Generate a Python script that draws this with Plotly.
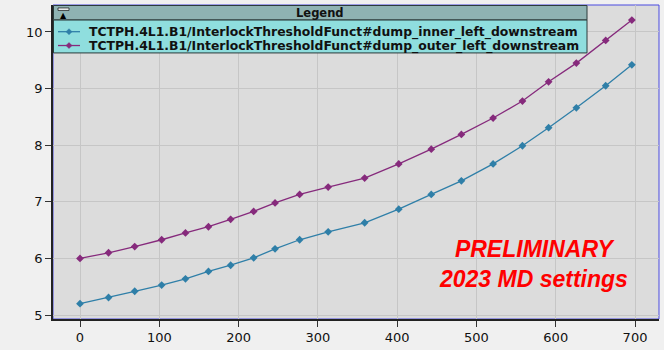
import plotly.graph_objects as go

# ---- data ----
x_vals = [0, 36, 69, 103, 133, 162, 190, 219, 246, 277, 313, 359, 402, 443,
          481, 521, 558, 591, 626, 663, 696]
inner = [5.20, 5.31, 5.42, 5.53, 5.64, 5.77, 5.88, 6.01, 6.17, 6.33, 6.47,
         6.63, 6.87, 7.13, 7.37, 7.67, 7.99, 8.31, 8.66, 9.05, 9.42]
outer = [6.00, 6.10, 6.21, 6.33, 6.45, 6.56, 6.69, 6.83, 6.98, 7.13, 7.26,
         7.42, 7.67, 7.93, 8.19, 8.48, 8.78, 9.12, 9.45, 9.85, 10.21]
names = ["TCTPH.4L1.B1/InterlockThresholdFunct#dump_inner_left_downstream",
         "TCTPH.4L1.B1/InterlockThresholdFunct#dump_outer_left_downstream"]
series = [inner, outer]
colors = ["#2f7fa8", "#862a7c"]
x_ticks = [0, 100, 200, 300, 400, 500, 600, 700]
y_ticks = [5, 6, 7, 8, 9, 10]
note_lines = ["PRELIMINARY", "2023 MD settings"]

W, H = 664, 350
L, R, T, B = 53, 659, 5, 322.7


def px(x):
    return (x - L) / (R - L)


def py(y):
    return (B - y) / (B - T)


fig = go.Figure()
for vals, name, col in zip(series, names, colors):
    fig.add_trace(go.Scatter(
        x=x_vals, y=vals, mode="lines+markers", name=name,
        line=dict(color=col, width=1.3),
        marker=dict(symbol="diamond", size=6, color=col),
        showlegend=False))

shapes = []
annotations = []

# plot frame (blue selection border)
shapes.append(dict(type="rect", xref="paper", yref="paper", x0=0, x1=1, y0=0, y1=1,
                   line=dict(color="#4a4ae0", width=1), layer="below"))

# custom legend
lx0, lx1, ly0, lhead, ly1 = 53.5, 587, 5.5, 20, 53.5
shapes.append(dict(type="rect", xref="paper", yref="paper",
                   x0=px(lx0), x1=px(lx1), y0=py(ly1), y1=py(lhead),
                   fillcolor="#8fdede", line=dict(color="#2a3a3a", width=1), layer="above"))
shapes.append(dict(type="rect", xref="paper", yref="paper",
                   x0=px(lx0), x1=px(lx1), y0=py(lhead), y1=py(ly0),
                   fillcolor="#8fb3b3", line=dict(color="#2a3a3a", width=1), layer="above"))
# header icon
shapes.append(dict(type="rect", xref="paper", yref="paper",
                   x0=px(58), x1=px(69), y0=py(10.5), y1=py(8),
                   fillcolor="#f4f8f8", line=dict(color="#222", width=0.8), layer="above"))
annotations.append(dict(text="▲", xref="paper", yref="paper", x=px(63.5), y=py(15.5),
                        showarrow=False, font=dict(size=8, color="#000"),
                        xanchor="center", yanchor="middle"))
annotations.append(dict(text="<b>Legend</b>", xref="paper", yref="paper",
                        x=px((lx0 + lx1) / 2), y=py(13), showarrow=False,
                        font=dict(family="DejaVu Sans", size=11.5, color="#111"),
                        xanchor="center", yanchor="middle"))
row_y = [32, 46]
for ry, name, col in zip(row_y, names, colors):
    shapes.append(dict(type="line", xref="paper", yref="paper",
                       x0=px(58), x1=px(80), y0=py(ry), y1=py(ry),
                       line=dict(color=col, width=1.3), layer="above"))
    d = 3
    cx = 69
    path = (f"M {px(cx)} {py(ry - d)} L {px(cx + d)} {py(ry)} "
            f"L {px(cx)} {py(ry + d)} L {px(cx - d)} {py(ry)} Z")
    shapes.append(dict(type="path", xref="paper", yref="paper", path=path,
                       fillcolor=col, line=dict(color=col, width=0.5), layer="above"))
    annotations.append(dict(text=f"<b>{name}</b>", xref="paper", yref="paper",
                            x=px(87), y=py(ry), showarrow=False,
                            font=dict(family="DejaVu Sans", size=12.4, color="#111"),
                            xanchor="left", yanchor="middle"))

# note
annotations.append(dict(text="<b><i>" + note_lines[0] + "<br>" + note_lines[1] + "</i></b>",
                        xref="paper", yref="paper", x=px(533), y=py(267),
                        showarrow=False, align="center",
                        font=dict(family="Liberation Sans", size=23, color="#ff0000"),
                        xanchor="center", yanchor="middle"))

fig.update_layout(
    width=W, height=H,
    margin=dict(l=L, r=W - R, t=T, b=H - B, pad=0),
    paper_bgcolor="#f0f0f0",
    plot_bgcolor="#dcdcdc",
    shapes=shapes,
    annotations=annotations,
    showlegend=False,
    font=dict(family="DejaVu Sans", size=13, color="#111"),
)
fig.update_xaxes(
    range=[(L - 80) / 0.7929, (R - 80) / 0.7929],
    tickvals=x_ticks, ticks="outside", ticklen=6, tickcolor="#333",
    showline=True, linecolor="#222", linewidth=1.5,
    showgrid=True, gridcolor="#c6c6c6", gridwidth=1, zeroline=False,
    tickfont=dict(family="DejaVu Sans", size=13, color="#111"))
fig.update_yaxes(
    range=[10 - (B - 32.3) / 57.28, 10 + (32.3 - T) / 57.28],
    tickvals=y_ticks, ticks="outside", ticklen=6, tickcolor="#333",
    showline=True, linecolor="#222", linewidth=1.5,
    showgrid=True, gridcolor="#c6c6c6", gridwidth=1, zeroline=False,
    tickfont=dict(family="DejaVu Sans", size=13, color="#111"))

fig.write_html("out.html")
